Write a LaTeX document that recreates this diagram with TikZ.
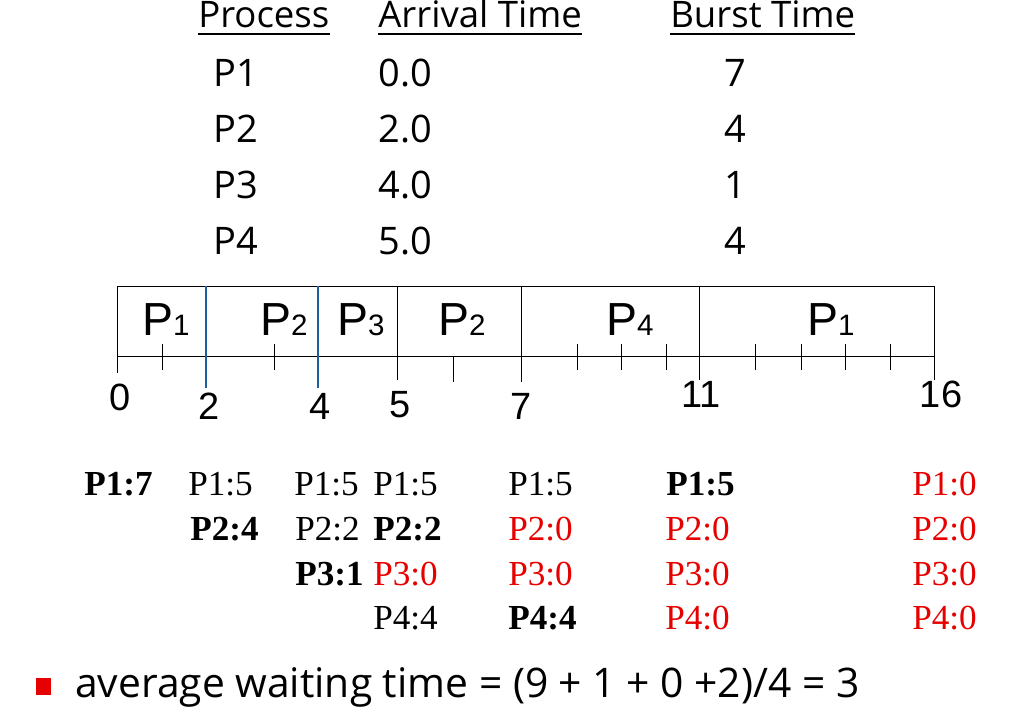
\documentclass[tikz,border=0pt]{standalone}
\usepackage{fontspec}
\newfontfamily\tablefont{Open Sans}
\newfontfamily\ganttfont{Liberation Sans}
\newfontfamily\remfont{Liberation Serif}
\usetikzlibrary{positioning}
\definecolor{markblue}{RGB}{31,94,156}
\definecolor{remred}{RGB}{230,0,0}
\newcommand{\slotlbl}[1]{P{\fontsize{21}{21}\selectfont #1}}

\begin{document}
\begin{tikzpicture}[x=0.025cm, y=-0.025cm,
    hdr/.style={anchor=base west, inner sep=0, font=\tablefont\fontsize{26}{26}\selectfont},
    cell/.style={anchor=base west, inner sep=0, font=\tablefont\fontsize{27}{27}\selectfont},
    slot/.style={anchor=base west, inner sep=0, font=\ganttfont\fontsize{33}{33}\selectfont},
    num/.style={inner sep=0, font=\ganttfont\fontsize{27}{27}\selectfont},
    rem/.style={anchor=base west, inner sep=0, font=\remfont\fontsize{25}{25}\selectfont},
    done/.style={rem, text=remred},
    run/.style={rem, font=\remfont\bfseries\fontsize{25}{25}\selectfont}]
    \useasboundingbox (0,0) rectangle (1017,715);

    % process table
    \node[hdr] (hproc) at (198,28) {Process};
    \node[hdr] (harr) at (378,28) {Arrival Time};
    \node[hdr] (hburst) at (670,28) {Burst Time};
    \foreach \h in {hproc, harr, hburst}
        \draw[line width=1.4pt] ([yshift=-4.3pt]\h.base west) -- ([yshift=-4.3pt]\h.base east);

    \node[cell] (p1) at (213,87) {P1};
    \node[cell] (p2) at (213,143) {P2};
    \node[cell] (p3) at (213,199) {P3};
    \node[cell] (p4) at (213,255) {P4};
    \node[cell] (a1) at (378,87) {0.0};
    \node[cell] (a2) at (378,143) {2.0};
    \node[cell] (a3) at (378,199) {4.0};
    \node[cell] (a4) at (378,255) {5.0};
    \node[cell, anchor=base] (b1) at (735,87) {7};
    \node[cell, anchor=base] (b2) at (735,143) {4};
    \node[cell, anchor=base] (b3) at (735,199) {1};
    \node[cell, anchor=base] (b4) at (735,255) {4};

    % gantt chart
    \draw[line width=0.7pt] (117,286) rectangle (934,356);
    \draw[line width=0.7pt] (117,356) -- (117,373);
    \draw[line width=0.7pt] (934,356) -- (934,380);
    \foreach \x/\y in {397/380, 521/382, 699/380}
        \draw[line width=0.7pt] (\x,286) -- (\x,\y);
    \foreach \x in {206, 318}
        \draw[markblue, line width=0.8pt] (\x,286) -- (\x,388);
    \foreach \x in {162, 274, 577, 621, 666, 755, 801, 845, 890}
        \draw[line width=0.7pt] (\x,344) -- (\x,370);
    \draw[line width=0.7pt] (453,356) -- (453,382);

    \node[slot] (s1) at (142,335) {\slotlbl{1}};
    \node[slot] (s2) at (260,335) {\slotlbl{2}};
    \node[slot] (s3) at (337,335) {\slotlbl{3}};
    \node[slot] (s4) at (438,335) {\slotlbl{2}};
    \node[slot] (s5) at (606,335) {\slotlbl{4}};
    \node[slot] (s6) at (807,335) {\slotlbl{1}};

    \node[num] (t0) at (120,397) {0};
    \node[num] (t2) at (209,406) {2};
    \node[num] (t4) at (320,406) {4};
    \node[num] (t5) at (400,405) {5};
    \node[num] (t7) at (521,406) {7};
    \node[num] (t11) at (701,394) {11};
    \node[num] (t16) at (941,394) {16};

    % remaining burst times
    \node[run] (r11) at (84,495) {P1:7};

    \node[rem] (r21) at (188,495) {P1:5};
    \node[run] (r22) at (190,540) {P2:4};

    \node[rem] (r31) at (294,495) {P1:5};
    \node[rem] (r32) at (295,540) {P2:2};
    \node[run] (r33) at (295,585) {P3:1};

    \node[rem] (r41) at (373,495) {P1:5};
    \node[run] (r42) at (373,540) {P2:2};
    \node[done] (r43) at (373,585) {P3:0};
    \node[rem] (r44) at (373,629) {P4:4};

    \node[rem] (r51) at (508,495) {P1:5};
    \node[done] (r52) at (508,540) {P2:0};
    \node[done] (r53) at (508,585) {P3:0};
    \node[run] (r54) at (508,629) {P4:4};

    \node[run] (r61) at (666,495) {P1:5};
    \node[done] (r62) at (665,540) {P2:0};
    \node[done] (r63) at (665,585) {P3:0};
    \node[done] (r64) at (665,629) {P4:0};

    \node[done] (r71) at (912,495) {P1:0};
    \node[done] (r72) at (912,540) {P2:0};
    \node[done] (r73) at (912,585) {P3:0};
    \node[done] (r74) at (912,629) {P4:0};

    % result
    \node[fill=remred, inner sep=0, minimum width=10.5pt, minimum height=11.5pt] (bul) at (43.5,686.5) {};
    \node[anchor=base west, inner sep=0, font=\tablefont\fontsize{29}{29}\selectfont] (avg) at (75,697)
        {average waiting time = (9 + 1 + 0 +2)/4 = 3};
\end{tikzpicture}
\end{document}
